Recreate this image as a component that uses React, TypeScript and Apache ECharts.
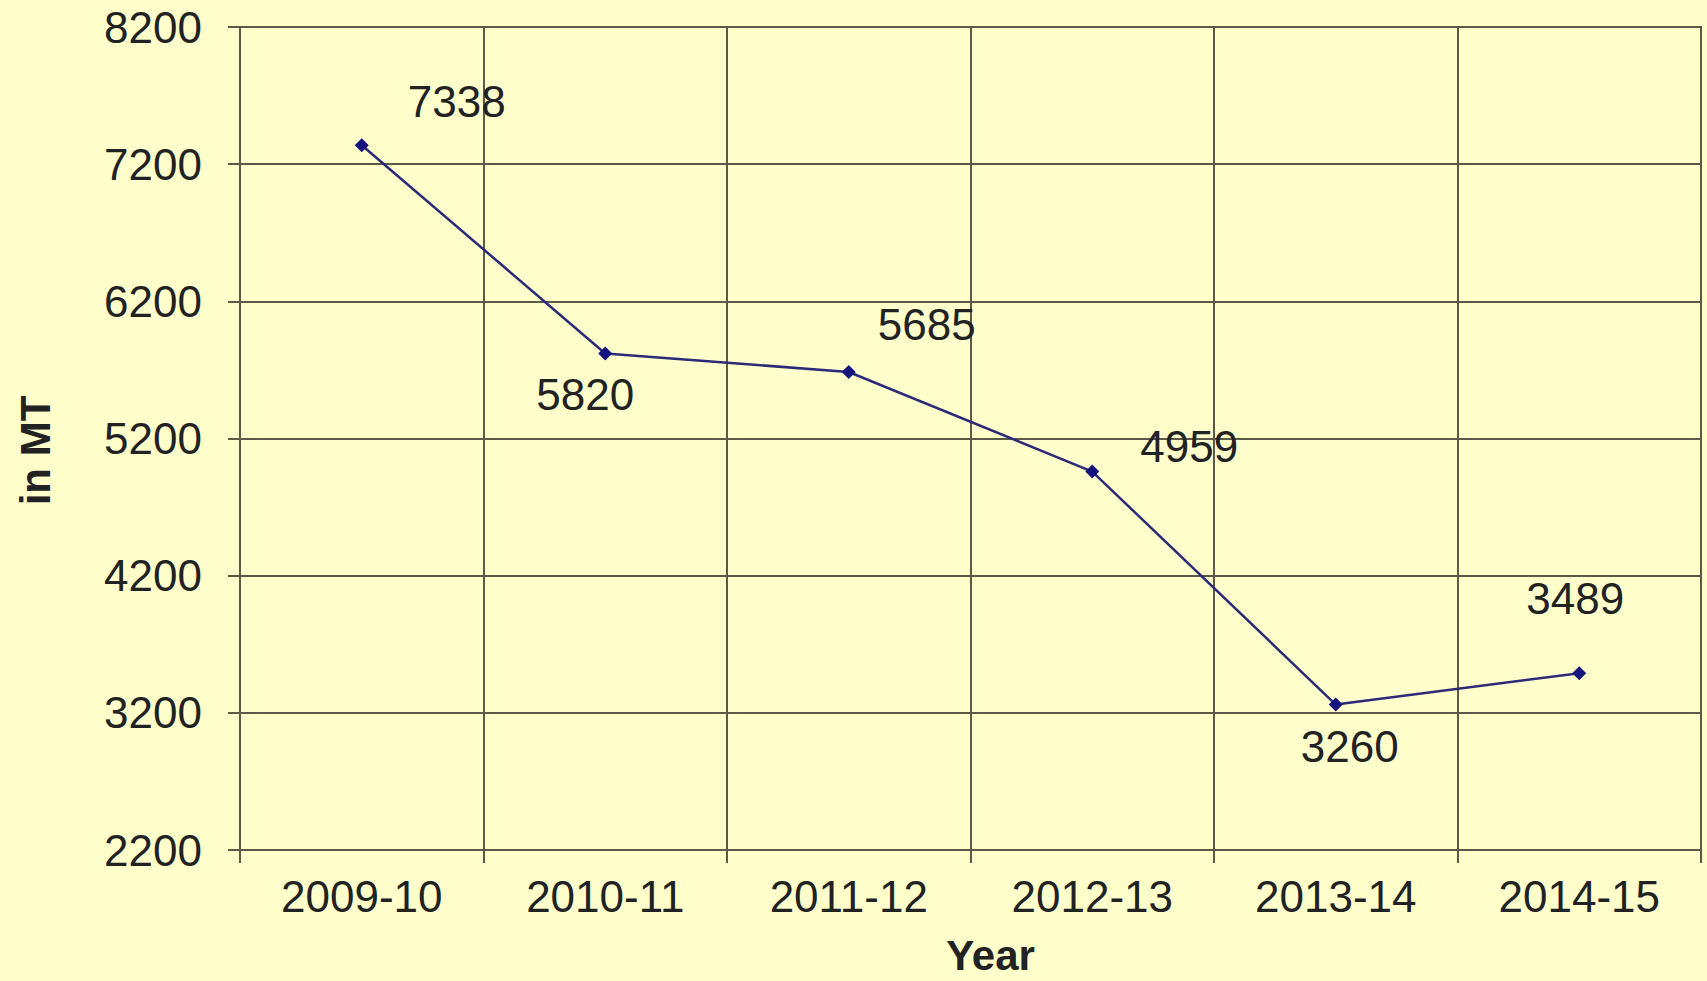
import React, { useEffect, useRef } from "react";
import * as echarts from "echarts";

const categories = ["2009-10", "2010-11", "2011-12", "2012-13", "2013-14", "2014-15"];
const values = [7338, 5820, 5685, 4959, 3260, 3489];
const yTicks = [2200, 3200, 4200, 5200, 6200, 7200, 8200];
const labelOffsets: [number, number][] = [
  [95, -44],
  [-20, 41],
  [78, -47],
  [97, -25],
  [14, 42],
  [-4, -75],
];

const FONT = "'Liberation Sans', Arial, sans-serif";
const GRID_COLOR = "#5a5a46";
const TEXT_COLOR = "#222222";

export default function App() {
  const ref = useRef<HTMLDivElement>(null);

  useEffect(() => {
    if (!ref.current) return;
    const chart = echarts.init(ref.current, undefined, { renderer: "svg" });
    chart.setOption({
      animation: false,
      backgroundColor: "#ffffcc",
      grid: {
        left: 240,
        right: 6,
        top: 27,
        bottom: 129,
        show: true,
        borderColor: GRID_COLOR,
        borderWidth: 2,
      },
      xAxis: {
        type: "category",
        data: categories,
        boundaryGap: true,
        name: "Year",
        nameLocation: "middle",
        nameGap: 84,
        nameTextStyle: {
          fontFamily: FONT,
          fontSize: 42,
          fontWeight: "bold",
          color: TEXT_COLOR,
          padding: [0, 0, 0, 40],
        },
        axisLine: { show: true, lineStyle: { color: GRID_COLOR, width: 2 } },
        axisTick: { show: true, length: 13, lineStyle: { color: GRID_COLOR, width: 2 } },
        axisLabel: {
          margin: 24,
          fontFamily: FONT,
          fontSize: 44,
          color: TEXT_COLOR,
        },
        splitLine: { show: true, lineStyle: { color: GRID_COLOR, width: 2 } },
      },
      yAxis: {
        type: "value",
        min: yTicks[0],
        max: yTicks[yTicks.length - 1],
        interval: 1000,
        name: "in MT",
        nameLocation: "middle",
        nameGap: 184,
        nameTextStyle: {
          fontFamily: FONT,
          fontSize: 42,
          fontWeight: "bold",
          color: TEXT_COLOR,
          padding: [0, 24, 0, 0],
        },
        axisLine: { show: true, lineStyle: { color: GRID_COLOR, width: 2 } },
        axisTick: { show: true, length: 12, lineStyle: { color: GRID_COLOR, width: 2 } },
        axisLabel: {
          margin: 38,
          fontFamily: FONT,
          fontSize: 44,
          color: TEXT_COLOR,
          formatter: (v: number) => String(v),
        },
        splitLine: { show: true, lineStyle: { color: GRID_COLOR, width: 2 } },
      },
      series: [
        {
          type: "line",
          data: values.map((v, i) => ({
            value: v,
            label: {
              show: true,
              position: "inside",
              offset: labelOffsets[i],
              align: "center",
              verticalAlign: "middle",
            },
          })),
          symbol: "diamond",
          symbolSize: 14,
          itemStyle: { color: "#14147e" },
          lineStyle: { color: "#2a2a78", width: 2.5 },
          label: {
            show: true,
            fontFamily: FONT,
            fontSize: 44,
            color: TEXT_COLOR,
          },
        },
      ],
    });
    return () => chart.dispose();
  }, []);

  return (
    <div
      ref={ref}
      style={{ position: "fixed", left: 0, top: 0, width: "1707px", height: "981px" }}
    />
  );
}
